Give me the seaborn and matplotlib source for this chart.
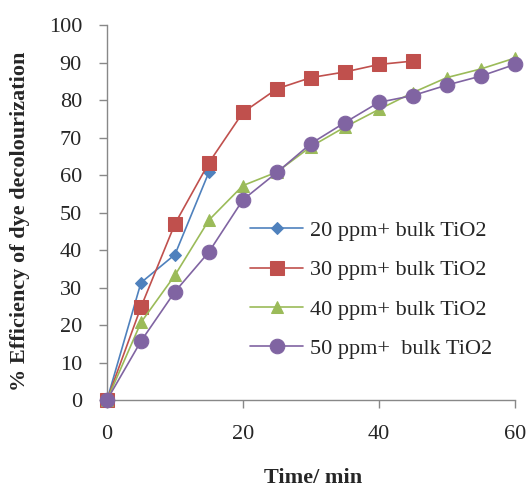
import numpy as np
import pandas as pd
import matplotlib.pyplot as plt
import seaborn as sns

# data
time_20 = [0, 5, 10, 15]
eff_20 = [0, 31.3, 38.8, 60.8]
time_30 = [0, 5, 10, 15, 20, 25, 30, 35, 40, 45]
eff_30 = [0, 24.8, 47, 63.3, 76.7, 83, 86, 87.5, 89.5, 90.4]
time_40 = [0, 5, 10, 15, 20, 25, 30, 35, 40, 45, 50, 55, 60]
eff_40 = [0, 20.7, 33.3, 48, 57.2, 60.8, 67.6, 72.8, 77.5, 82, 86, 88.3, 91.2]
time_50 = [0, 5, 10, 15, 20, 25, 30, 35, 40, 45, 50, 55, 60]
eff_50 = [0, 15.7, 28.9, 39.5, 53.4, 60.7, 68.4, 74, 79.4, 81.2, 84, 86.4, 89.5]

labels = ["20 ppm+ bulk TiO2", "30 ppm+ bulk TiO2", "40 ppm+ bulk TiO2", "50 ppm+  bulk TiO2"]
colors = ["#4F81BD", "#C0504D", "#9BBB59", "#8064A2"]
marks = ["D", "s", "^", "o"]
sizes = [6, 10.5, 9, 10.5]

sns.set_style("white")
plt.rcParams['font.family'] = ['Liberation Serif', 'DejaVu Serif']

fig = plt.figure(figsize=(5.31, 4.93), dpi=100)
ax = fig.add_axes([0.2015, 0.1886, 0.768, 0.7605])

series = [(time_20, eff_20), (time_30, eff_30), (time_40, eff_40), (time_50, eff_50)]
for (t, e), lab, c, m, s in zip(series, labels, colors, marks, sizes):
    sns.lineplot(x=t, y=e, ax=ax, color=c, marker=m, markersize=s, markeredgecolor=c,
                 linewidth=1.2, label=lab, sort=False, clip_on=False, zorder=3)

ax.set_xlim(0, 60)
ax.set_ylim(0, 100)
ax.set_xticks([0, 20, 40, 60])
ax.set_yticks(np.arange(0, 101, 10))
ax.tick_params(axis='both', labelsize=16, direction='out', length=6, width=1,
               color='#888888', left=True, bottom=True)
ax.tick_params(axis='y', pad=12)
ax.tick_params(axis='x', pad=12)
for side in ['top', 'right']:
    ax.spines[side].set_visible(False)
for side in ['left', 'bottom']:
    ax.spines[side].set_color('#888888')
    ax.spines[side].set_linewidth(1)

ax.set_xlabel("Time/ min", fontsize=16, fontweight='bold')
ax.set_ylabel("% Efficiency of dye decolourization", fontsize=16, fontweight='bold')
ax.xaxis.set_label_coords(0.505, -0.18)
ax.yaxis.set_label_coords(-0.19, 0.476)

ax.legend(loc='upper left', bbox_to_anchor=(0.471, 0.553), bbox_transform=fig.transFigure,
          frameon=False, fontsize=16, labelspacing=0.85, handlelength=2.4, handletextpad=0.3,
          borderaxespad=0, borderpad=0)

fig.savefig("out.png", dpi=100)
